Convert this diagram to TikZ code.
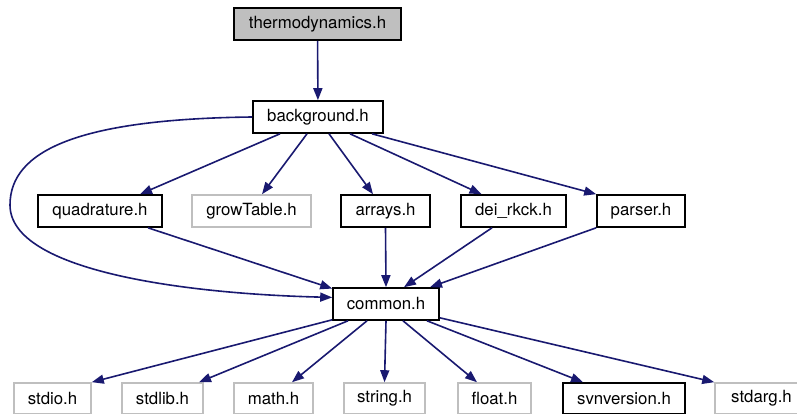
\documentclass[tikz,border=0pt]{standalone}
\usepackage{fontspec}
\setmainfont{TeX Gyre Heros}
\usetikzlibrary{arrows.meta}
\definecolor{edgeblue}{RGB}{25,25,112}
\definecolor{extgrey}{RGB}{191,191,191}

\begin{document}
\begin{tikzpicture}[x=1pt,y=-1pt,
    file/.style={draw=black,line width=1.6pt,inner sep=0pt,minimum height=32pt,
        font=\fontsize{16.8}{20}\selectfont},
    extfile/.style={file,draw=extgrey,minimum height=31pt},
    edge/.style={draw=edgeblue,line width=1.6pt,-{Triangle[length=12pt,width=9pt]}}]
    \useasboundingbox (0,0) rectangle (797,414);

    % top: the file itself
    \node[file,fill=extgrey,minimum width=167pt] (thermo) at (317.5,24) {thermodynamics.h};
    \node[file,minimum width=130pt] (background) at (318,117) {background.h};

    % second row
    \node[file,minimum width=124pt] (quadrature) at (100,211) {quadrature.h};
    \node[extfile,minimum height=32pt,minimum width=119pt] (growtable) at (251.5,211) {growTable.h};
    \node[file,minimum width=89pt] (arrays) at (385.5,211) {arrays.h};
    \node[file,minimum width=105pt] (deirkck) at (513.5,211) {dei\_rkck.h};
    \node[file,minimum width=88pt] (parser) at (641,211) {parser.h};

    % common
    \node[file,minimum width=106pt] (common) at (386,304) {common.h};

    % bottom row
    \node[extfile,minimum width=77pt] (stdio) at (52.5,398.5) {stdio.h};
    \node[extfile,minimum width=81pt] (stdlib) at (162.5,398.5) {stdlib.h};
    \node[extfile,minimum width=79pt] (math) at (273.5,398.5) {math.h};
    \node[extfile,minimum width=81pt] (string) at (384.5,398.5) {string.h};
    \node[extfile,minimum width=73pt] (float) at (494.5,398.5) {float.h};
    \node[file,minimum height=31pt,minimum width=122pt] (svnversion) at (624,398.5) {svnversion.h};
    \node[extfile,minimum width=93pt] (stdarg) at (761.5,398.5) {stdarg.h};

    % edges
    \draw[edge] (thermo) -- (background);
    \draw[edge] ([xshift=-38pt]background.south) -- ([xshift=40pt]quadrature.north);
    \draw[edge] ([xshift=-11pt]background.south) -- ([xshift=10.5pt]growtable.north);
    \draw[edge] ([xshift=11pt]background.south) -- ([xshift=-12.5pt]arrays.north);
    \draw[edge] ([xshift=32pt]background.south) -- ([xshift=-32pt]deirkck.north);
    \draw[edge] ([xshift=54pt]background.south) -- (parser.north west);
    \draw[edge] (background.west) .. controls (80,119) and (10,150) .. (10,205)
        .. controls (10,272) and (190,294) .. (common.173);

    \draw[edge] ([xshift=48pt]quadrature.south) -- (common.164);
    \draw[edge] (arrays.south) -- (common.north);
    \draw[edge] ([xshift=-21.5pt]deirkck.south) -- ([xshift=18pt]common.north);
    \draw[edge] (parser.south west) -- ([xshift=44pt]common.north);

    \draw[edge] ([yshift=1pt]common.south west) -- (stdio.north east);
    \draw[edge] ([xshift=-38pt]common.south) -- ([xshift=36.5pt]stdlib.north);
    \draw[edge] ([xshift=-19pt]common.south) -- ([xshift=18.5pt]math.north);
    \draw[edge] (common.south) -- (string.north);
    \draw[edge] ([xshift=17pt]common.south) -- ([xshift=-17.5pt]float.north);
    \draw[edge] ([xshift=41pt]common.south) -- ([xshift=-41pt]svnversion.north);
    \draw[edge] ([yshift=3pt]common.south east) -- (stdarg.north west);
\end{tikzpicture}
\end{document}
